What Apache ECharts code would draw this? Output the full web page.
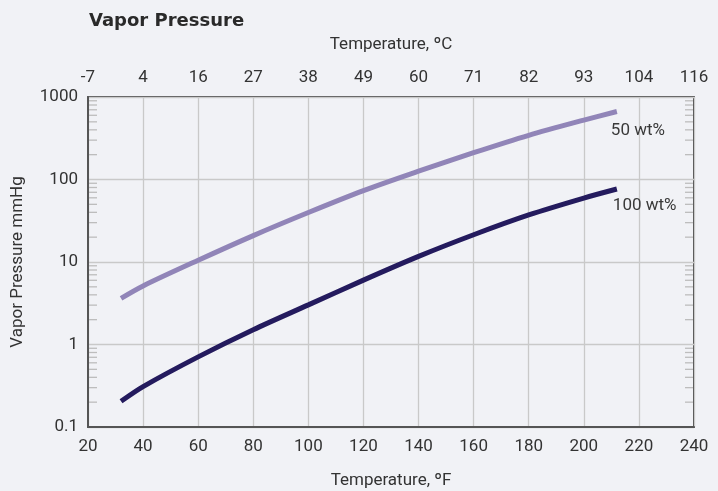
<!DOCTYPE html>
<html>
<head>
<meta charset="utf-8">
<script src="https://cdn.jsdelivr.net/npm/echarts@6/dist/echarts.min.js"></script>
<style>
html,body{margin:0;padding:0;background:#f1f2f6;}
#chart{width:718px;height:491px;}
</style>
</head>
<body>
<div id="chart"></div>
<script>
// Temperature (°F) sample points along the curves
const tempF = [32, 40, 60, 80, 100, 120, 140, 160, 180, 200, 212];
// Vapor pressure, mmHg
const vp50 = [3.63, 5.13, 10.5, 20.9, 39.8, 73.3, 126, 211, 343, 525, 668];
const vp100 = [0.205, 0.309, 0.708, 1.51, 3.02, 6.03, 11.7, 21.4, 37.2, 59.6, 76.7];
// Top axis (°C) labels matching the °F ticks 20..240
const celsiusLabels = ['-7', '4', '16', '27', '38', '49', '60', '71', '82', '93', '104', '116'];
// Minor log ticks
const minorTicks = [0.2,0.3,0.4,0.5,0.6,0.7,0.8,0.9, 2,3,4,5,6,7,8,9, 20,30,40,50,60,70,80,90, 200,300,400,500,600,700,800,900];

const FONT = 'Roboto';
const TXT = '#333';
const xMin = 20, xMax = 240, xStep = 20;

const chart = echarts.init(document.getElementById('chart'), null, {renderer: 'canvas'});
chart.setOption({
  backgroundColor: '#f1f2f6',
  animation: false,
  title: {
    text: 'Vapor Pressure',
    left: 84, top: 7,
    textStyle: {fontFamily: 'DejaVu Sans', fontSize: 18, fontWeight: 600, color: '#2a2a2a'}
  },
  grid: {
    left: 88, right: 24, top: 97, bottom: 64,
    containLabel: false, outerBoundsMode: 'none',
    show: true, borderColor: '#111', borderWidth: 1.5, backgroundColor: 'transparent'
  },
  xAxis: [
    {
      type: 'value', position: 'bottom', min: xMin, max: xMax, interval: xStep,
      name: 'Temperature, ºF', nameLocation: 'middle', nameGap: 45,
      nameTextStyle: {fontFamily: FONT, fontSize: 17, color: TXT},
      axisLine: {show: true, onZero: false, lineStyle: {color: '#555', width: 2}},
      axisTick: {show: false},
      axisLabel: {fontFamily: FONT, fontSize: 17, color: TXT, margin: 11},
      splitLine: {show: true, lineStyle: {color: '#c9c9c9', width: 1.3}}
    },
    {
      type: 'value', position: 'top', min: xMin, max: xMax, interval: xStep,
      name: 'Temperature, ºC', nameLocation: 'middle', nameGap: 44,
      nameTextStyle: {fontFamily: FONT, fontSize: 17, color: TXT},
      axisLine: {show: false},
      axisTick: {show: false},
      axisLabel: {
        fontFamily: FONT, fontSize: 17, color: TXT, margin: 11,
        formatter: function (v) { return celsiusLabels[Math.round((v - xMin) / xStep)] || ''; }
      },
      splitLine: {show: false}
    }
  ],
  yAxis: {
    type: 'log', logBase: 10, min: 0.1, max: 1000,
    name: 'Vapor Pressure mmHg', nameLocation: 'middle', nameGap: 62,
    nameTextStyle: {fontFamily: FONT, fontSize: 17, color: TXT},
    axisLine: {show: true, onZero: false, lineStyle: {color: '#555', width: 2}},
    axisTick: {show: false},
    minorTick: {show: false},
    axisLabel: {
      fontFamily: FONT, fontSize: 17, color: TXT, margin: 10,
      formatter: function (v) { return String(+v.toPrecision(6)); }
    },
    splitLine: {show: true, lineStyle: {color: '#c9c9c9', width: 1.3}}
  },
  series: [
    {
      type: 'custom', name: 'minorTicks', xAxisIndex: 0, yAxisIndex: 0,
      silent: true, clip: false, z: 1,
      data: minorTicks.map(function (v) { return [xMin, v]; }),
      encode: {x: 0, y: 1},
      renderItem: function (params, api) {
        const v = api.value(1);
        const pl = api.coord([xMin, v]);
        const pr = api.coord([xMax, v]);
        const st = {stroke: '#bdbdbd', lineWidth: 1.3};
        return {type: 'group', children: [
          {type: 'line', shape: {x1: pl[0] + 1, y1: pl[1], x2: pl[0] + 9, y2: pl[1]}, style: st},
          {type: 'line', shape: {x1: pr[0] - 9, y1: pr[1], x2: pr[0] - 1, y2: pr[1]}, style: st}
        ]};
      }
    },
    {
      type: 'line', name: '50 wt%', smooth: 0.3, symbol: 'none', z: 3,
      data: tempF.map(function (t, i) { return [t, vp50[i]]; }),
      lineStyle: {color: '#9185b8', width: 5, cap: 'butt'},
      endLabel: {
        show: true, formatter: '50 wt%', fontFamily: FONT, fontSize: 17, color: '#3a3a3a',
        offset: [-14, 19]
      }
    },
    {
      type: 'line', name: '100 wt%', smooth: 0.3, symbol: 'none', z: 3,
      data: tempF.map(function (t, i) { return [t, vp100[i]]; }),
      lineStyle: {color: '#241b5e', width: 5, cap: 'butt'},
      endLabel: {
        show: true, formatter: '100 wt%', fontFamily: FONT, fontSize: 17, color: '#3a3a3a',
        offset: [-12, 17]
      }
    }
  ]
});
</script>
</body>
</html>
